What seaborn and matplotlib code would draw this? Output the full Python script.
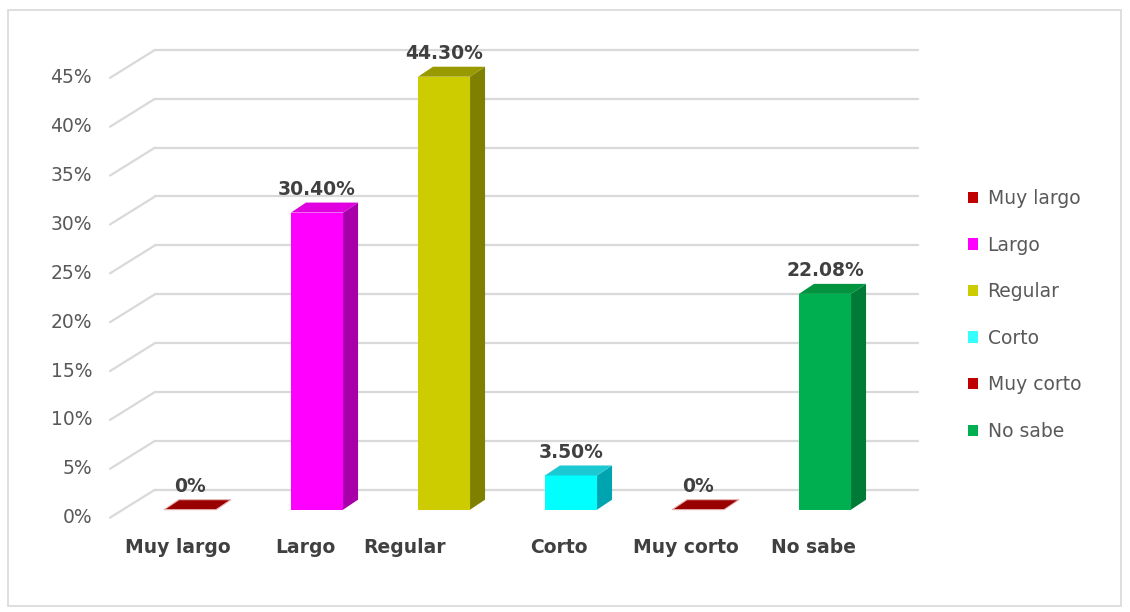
import matplotlib
matplotlib.use("Agg")
import matplotlib.pyplot as plt
from matplotlib.patches import Polygon, Patch, Rectangle
import seaborn as sns
import numpy as np

categories = ["Muy largo", "Largo", "Regular", "Corto", "Muy corto", "No sabe"]
values = [0.0, 30.40, 44.30, 3.50, 0.0, 22.08]
value_labels = ["0%", "30.40%", "44.30%", "3.50%", "0%", "22.08%"]
y_ticks = [0, 5, 10, 15, 20, 25, 30, 35, 40, 45]

front_colors = ["#9c0000", "#ff00ff", "#cccc00", "#00ffff", "#9c0000", "#00b050"]
side_colors = ["#6e0000", "#a800a8", "#7f7f00", "#00a3b0", "#6e0000", "#007a37"]
top_colors = ["#990000", "#e000e0", "#999900", "#1cc8d2", "#990000", "#00943f"]
legend_colors = ["#c00000", "#ff00ff", "#cccc00", "#33ffff", "#c00000", "#00b050"]

sns.set_style("white")
plt.rcParams["font.family"] = ["DejaVu Sans"]

W, H = 1130, 612
fig = plt.figure(figsize=(W / 100, H / 100), dpi=100)
ax = fig.add_axes([125 / W, 73 / H, 763 / W, 518 / H])

sns.barplot(x=categories, y=values, hue=categories, palette=front_colors,
            width=0.41, legend=False, saturation=1, linewidth=0, ax=ax, zorder=3)
ax.set_xlim(-0.512, 5.496)
ax.set_ylim(-3, 50)
ax.axis("off")


def px2data(dx, dy):
    # pixel offset -> data offset (y up)
    p0 = ax.transData.transform((0, 0))
    q = ax.transData.inverted().transform(p0 + np.array([dx, dy]))
    return q[0], q[1]


bdx, bdy = px2data(15, 10)      # bar depth
fdx, fdy = px2data(-15, -8)     # front of floor
kdx, kdy = px2data(30, 20)      # back wall
x0, x1 = ax.get_xlim()

grid_c = "#d9d9d9"
for v in y_ticks:
    ax.plot([x0 + kdx, x1 + kdx], [v + kdy, v + kdy], color=grid_c, lw=1.6,
            clip_on=False, zorder=0)
    ax.plot([x0 + fdx, x0 + kdx], [v + fdy, v + kdy], color=grid_c, lw=1.6,
            clip_on=False, zorder=0)
    ax.text(x0 + fdx - px2data(18, 0)[0], v + fdy, f"{v}%", ha="right",
            va="center", fontsize=13.5, color="#595959")

# 3D faces built from the seaborn bars
for i, bar in enumerate(ax.patches[:len(categories)]):
    bx, bw, bh = bar.get_x(), bar.get_width(), bar.get_height()
    top = Polygon([(bx, bh), (bx + bw, bh), (bx + bw + bdx, bh + bdy),
                   (bx + bdx, bh + bdy)], closed=True, facecolor=top_colors[i],
                  edgecolor="#e8b4b4" if bh == 0 else "none", lw=0.8,
                  clip_on=False, zorder=4)
    ax.add_patch(top)
    if bh > 0:
        side = Polygon([(bx + bw, 0), (bx + bw + bdx, bdy), (bx + bw + bdx, bh + bdy),
                        (bx + bw, bh)], closed=True, facecolor=side_colors[i],
                       edgecolor="none", clip_on=False, zorder=3)
        ax.add_patch(side)
    cx = bx + bw / 2
    ax.text(cx, bh + px2data(0, 23)[1], value_labels[i], ha="center", va="center",
            fontsize=13.5, fontweight="bold", color="#404040", clip_on=False)

label_nudge = {"Regular": -27}
for i, cat in enumerate(categories):
    nx = px2data(-12 + label_nudge.get(cat, 0), 0)[0]
    ax.text(i + nx, -px2data(0, 38)[1], cat, ha="center", va="center",
            fontsize=13.5, fontweight="bold", color="#404040", clip_on=False)

handles = [Patch(facecolor=c, edgecolor="none") for c in legend_colors]
fig.legend(handles, categories, loc="center left",
           bbox_to_anchor=(951 / W, 1 - 315 / H), frameon=False, fontsize=13.5,
           labelspacing=1.47, handlelength=0.55, handleheight=0.55,
           handletextpad=0.5, labelcolor="#595959")

fig.patches.append(Rectangle((8 / W, 6 / H), 1113 / W, 596 / H, transform=fig.transFigure,
                             fill=False, edgecolor="#d9d9d9", lw=1.2))

fig.savefig("out.png", dpi=100)
